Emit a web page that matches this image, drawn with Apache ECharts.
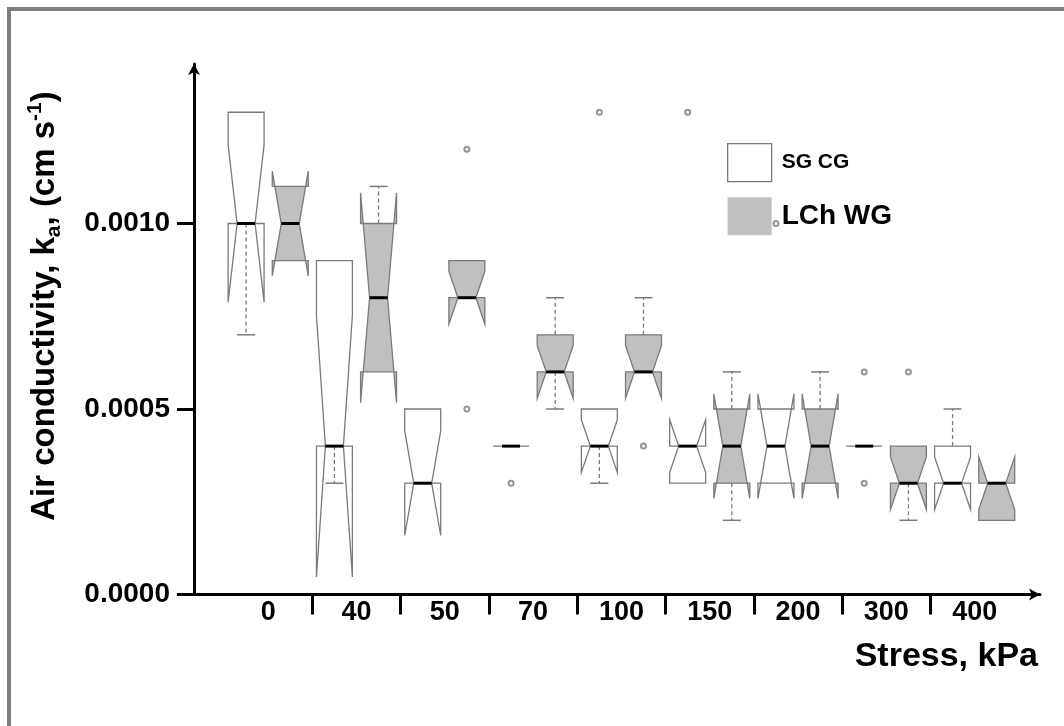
<!DOCTYPE html>
<html>
<head>
<meta charset="UTF-8">
<title>Air conductivity vs stress</title>
<script src="https://cdn.jsdelivr.net/npm/echarts@6/dist/echarts.min.js"></script>
<style>
    html,body{margin:0;padding:0;background:#fff;}
    #chart{width:1064px;height:726px;}
</style>
</head>
<body>
<div id="chart"></div>
<script>
    // categories on the x axis
    var stress = ['0', '40', '50', '70', '100', '150', '200', '300', '400'];
    var names = ['SG CG', 'LCh WG'];

    // [lower whisker, Q1, median, Q3, upper whisker]
    var sgBox = [
        [0.0007, 0.0010, 0.0010, 0.0013, 0.0013],
        [0.0003, 0.0004, 0.0004, 0.0009, 0.0009],
        [0.0003, 0.0003, 0.0003, 0.0005, 0.0005],
        [0.0004, 0.0004, 0.0004, 0.0004, 0.0004],
        [0.0003, 0.0004, 0.0004, 0.0005, 0.0005],
        [0.0003, 0.0003, 0.0004, 0.0004, 0.0004],
        [0.0003, 0.0003, 0.0004, 0.0005, 0.0005],
        [0.0004, 0.0004, 0.0004, 0.0004, 0.0004],
        [0.0003, 0.0003, 0.0003, 0.0004, 0.0005]
    ];
    var lchBox = [
        [0.0009, 0.0009, 0.0010, 0.0011, 0.0011],
        [0.0006, 0.0006, 0.0008, 0.0010, 0.0011],
        [0.0008, 0.0008, 0.0008, 0.0009, 0.0009],
        [0.0005, 0.0006, 0.0006, 0.0007, 0.0008],
        [0.0006, 0.0006, 0.0006, 0.0007, 0.0008],
        [0.0002, 0.0003, 0.0004, 0.0005, 0.0006],
        [0.0003, 0.0003, 0.0004, 0.0005, 0.0006],
        [0.0002, 0.0003, 0.0003, 0.0004, 0.0004],
        [0.0002, 0.0002, 0.0003, 0.0003, 0.0003]
    ];
    // notch limits [low, high]
    var sgNotch = [
        [0.000788, 0.001212], [0.000047, 0.000753], [0.000159, 0.000441],
        [0.0004, 0.0004], [0.000329, 0.000471], [0.000329, 0.000471],
        [0.000259, 0.000541], [0.0004, 0.0004], [0.000229, 0.000371]
    ];
    var lchNotch = [
        [0.000859, 0.001141], [0.000517, 0.001083], [0.000729, 0.000871],
        [0.000529, 0.000671], [0.000529, 0.000671], [0.000259, 0.000541],
        [0.000259, 0.000541], [0.000229, 0.000371], [0.000229, 0.000371]
    ];
    // outliers [category index, value]
    var sgOut = [[3, 0.0003], [4, 0.0013], [5, 0.0013], [6, 0.0010], [7, 0.0006], [7, 0.0003]];
    var lchOut = [[2, 0.0012], [2, 0.0005], [4, 0.0004], [7, 0.0006]];

    var yTicks = [0, 0.0005, 0.0010];

    var FONT = 'Liberation Sans, Arial, sans-serif';
    var HALF = 0.2036;   // half box width in category units
    var EDGE = '#7a7a7a';

    function boxData(box, notch, shift) {
        return box.map(function (b, i) {
            return [i + shift, b[0], b[1], b[2], b[3], b[4], notch[i][0], notch[i][1]];
        });
    }
    function outData(list, shift) {
        return list.map(function (p) { return [p[0] + shift, p[1]]; });
    }

    function makeRender(fill) {
        return function (params, api) {
            var x = api.value(0);
            var hw = api.size([HALF, 0])[0];
            var py = function (v) { return api.coord([x, v])[1]; };
            var cx = api.coord([x, 0])[0];
            var low = api.value(1), q1 = api.value(2), med = api.value(3), q3 = api.value(4), high = api.value(5);
            var yLow = py(low), yQ1 = py(q1), yMed = py(med), yQ3 = py(q3), yHigh = py(high);
            var yNl = py(api.value(6)), yNh = py(api.value(7));
            var L = cx - hw, R = cx + hw, nL = cx - hw / 2, nR = cx + hw / 2;
            var kids = [{
                type: 'polygon',
                shape: {points: [[L, yQ1], [R, yQ1], [R, yNl], [nR, yMed], [R, yNh], [R, yQ3],
                    [L, yQ3], [L, yNh], [nL, yMed], [L, yNl]]},
                style: {fill: fill, stroke: EDGE, lineWidth: 1.3}
            }];
            if (high > q3) {
                kids.push({type: 'line', shape: {x1: cx, y1: yQ3, x2: cx, y2: yHigh},
                    style: {stroke: EDGE, lineWidth: 1.3, lineDash: [4, 3]}});
                kids.push({type: 'line', shape: {x1: nL, y1: yHigh, x2: nR, y2: yHigh},
                    style: {stroke: EDGE, lineWidth: 1.5}});
            }
            if (low < q1) {
                kids.push({type: 'line', shape: {x1: cx, y1: yQ1, x2: cx, y2: yLow},
                    style: {stroke: EDGE, lineWidth: 1.3, lineDash: [4, 3]}});
                kids.push({type: 'line', shape: {x1: nL, y1: yLow, x2: nR, y2: yLow},
                    style: {stroke: EDGE, lineWidth: 1.5}});
            }
            kids.push({type: 'line', shape: {x1: nL, y1: yMed, x2: nR, y2: yMed},
                style: {stroke: '#000', lineWidth: 3}});
            return {type: 'group', children: kids};
        };
    }

    var xTickVals = stress.slice(1).map(function (s, i) { return i + 0.5; });
    var xLabelVals = stress.map(function (s, i) { return i; });

    var chart = echarts.init(document.getElementById('chart'));
    chart.setOption({
        animation: false,
        backgroundColor: '#fff',
        grid: {left: 194, right: 24, top: 64, bottom: 131.5, containLabel: false},
        legend: {
            orient: 'vertical', left: 722, top: 138,
            itemWidth: 44, itemHeight: 38, itemGap: 15,
            selectedMode: false,
            textStyle: {fontWeight: 'bold', color: '#000', fontFamily: FONT, padding: [0, 0, 0, 5]},
            data: [
                {name: names[0], icon: 'rect', itemStyle: {color: '#fff', borderColor: EDGE, borderWidth: 1.3},
                    textStyle: {fontSize: 21}},
                {name: names[1], icon: 'rect', itemStyle: {color: '#c0c0c0', borderColor: '#c0c0c0', borderWidth: 0},
                    textStyle: {fontSize: 28}}
            ]
        },
        xAxis: {
            type: 'value', min: -0.84, max: 8.74,
            axisLine: {show: true, onZero: false, lineStyle: {color: '#000', width: 3},
                symbol: ['none', 'arrow'], symbolSize: [9, 11]},
            axisTick: {show: true, customValues: xTickVals, length: 20, inside: false,
                lineStyle: {color: '#000', width: 3}},
            axisLabel: {customValues: xLabelVals, margin: 5,
                formatter: function (v) { return stress[Math.round(v)]; },
                fontSize: 27, fontWeight: 'bold', color: '#000', fontFamily: FONT},
            splitLine: {show: false}
        },
        yAxis: {
            type: 'value', min: 0, max: 0.00143,
            axisLine: {show: true, onZero: false, lineStyle: {color: '#000', width: 3},
                symbol: ['none', 'arrow'], symbolSize: [9, 11]},
            axisTick: {show: true, customValues: yTicks, length: 17, lineStyle: {color: '#000', width: 3}},
            axisLabel: {customValues: yTicks, margin: 24,
                formatter: function (v) { return v.toFixed(4); },
                fontSize: 28, fontWeight: 'bold', color: '#000', fontFamily: FONT},
            splitLine: {show: false}
        },
        graphic: [
            {type: 'rect', silent: true, z: -10, shape: {x: 9, y: 9, width: 1200, height: 900},
                style: {fill: null, stroke: '#808080', lineWidth: 4}},
            {type: 'text', x: 45, y: 306, rotation: Math.PI / 2,
                style: {
                    text: '{t|Air conductivity, k}{s|a}{t|, (cm s}{u|-1}{t|)}',
                    align: 'center', verticalAlign: 'middle',
                    rich: {
                        t: {fontSize: 33, fontWeight: 'bold', fontFamily: FONT, fill: '#000', lineHeight: 40},
                        s: {fontSize: 21, fontWeight: 'bold', fontFamily: FONT, fill: '#000', verticalAlign: 'bottom', lineHeight: 40},
                        u: {fontSize: 21, fontWeight: 'bold', fontFamily: FONT, fill: '#000', verticalAlign: 'top', lineHeight: 40}
                    }
                }},
            {type: 'text', x: 1038, y: 657,
                style: {text: 'Stress, kPa', align: 'right', verticalAlign: 'middle',
                    fontSize: 34, fontWeight: 'bold', fontFamily: FONT, fill: '#000'}}
        ],
        series: [
            {name: names[0], type: 'custom', renderItem: makeRender('#ffffff'),
                itemStyle: {color: '#fff'}, data: boxData(sgBox, sgNotch, -0.25)},
            {name: names[1], type: 'custom', renderItem: makeRender('#c0c0c0'),
                itemStyle: {color: '#c0c0c0'}, data: boxData(lchBox, lchNotch, 0.25)},
            {name: 'SG out', type: 'scatter', symbol: 'emptyCircle', symbolSize: 5,
                itemStyle: {color: EDGE, borderWidth: 1}, data: outData(sgOut, -0.25)},
            {name: 'LCh out', type: 'scatter', symbol: 'emptyCircle', symbolSize: 5,
                itemStyle: {color: EDGE, borderWidth: 1}, data: outData(lchOut, 0.25)}
        ]
    });
</script>
</body>
</html>
